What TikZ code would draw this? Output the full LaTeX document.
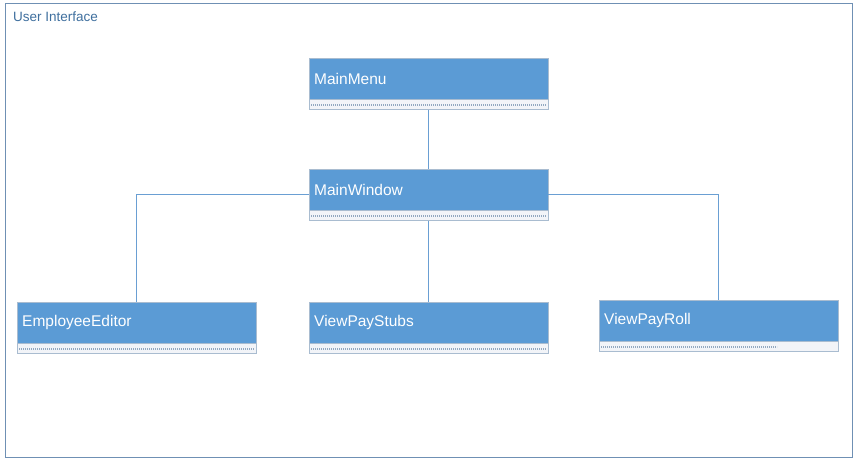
\documentclass[tikz,border=0pt]{standalone}
\usepackage{fontspec}
\setmainfont{Liberation Sans}
\usetikzlibrary{positioning}
\definecolor{framecol}{HTML}{6F90B4}
\definecolor{labelcol}{HTML}{3F6F9E}
\definecolor{headfill}{HTML}{5B9BD5}
\definecolor{boxedge}{HTML}{A9BCD0}
\definecolor{footfill}{HTML}{F2F4F8}
\definecolor{dotcol}{HTML}{92A8C0}
\definecolor{linkcol}{HTML}{6A9FD3}
\newcommand{\uiclass}[5]{%
  \node[classhead] (#1) at (#2,#3) {#4};
  \node[classfoot, below=0pt of #1] (#1-f) {};
  \draw[dotrule] ([xshift=2pt]#1-f.west) -- ++(#5,0);
}

\begin{document}
\begin{tikzpicture}[x=1pt, y=-1pt]
    \tikzset{
      classhead/.style={anchor=north west, rectangle, draw=boxedge, fill=headfill,
        minimum width=239pt, minimum height=41pt, text width=229pt, inner xsep=5pt,
        align=left, text=white, font=\fontsize{15.5}{18}\selectfont},
      classfoot/.style={rectangle, draw=boxedge, fill=footfill,
        minimum width=239pt, minimum height=10pt, inner sep=0pt},
      dotrule/.style={dotcol, line width=2pt, dash pattern=on 1.2pt off 0.8pt},
      link/.style={linkcol, line width=0.8pt}
    }
    \useasboundingbox (0,0) rectangle (857,462);
    \draw[framecol, line width=0.8pt] (5,3) rectangle (852,457);
    \node[anchor=west, inner sep=0pt, text=labelcol, font=\fontsize{13.5}{16}\selectfont] (uilabel) at (13,17) {User Interface};

    \uiclass{mainmenu}{309}{58}{MainMenu}{235}
    \uiclass{mainwindow}{309}{169}{MainWindow}{235}
    \uiclass{empeditor}{17}{302}{EmployeeEditor}{235}
    \uiclass{paystubs}{309}{302}{ViewPayStubs}{235}
    \uiclass{payroll}{599}{300}{ViewPayRoll}{176}

    \draw[link] (mainmenu-f.south) -- (mainwindow.north);
    \draw[link] ([yshift=-4.5pt]mainwindow.west) -| (empeditor.north);
    \draw[link] (mainwindow-f.south) -- (paystubs.north);
    \draw[link] ([yshift=-4.5pt]mainwindow.east) -| (payroll.north);
\end{tikzpicture}
\end{document}
